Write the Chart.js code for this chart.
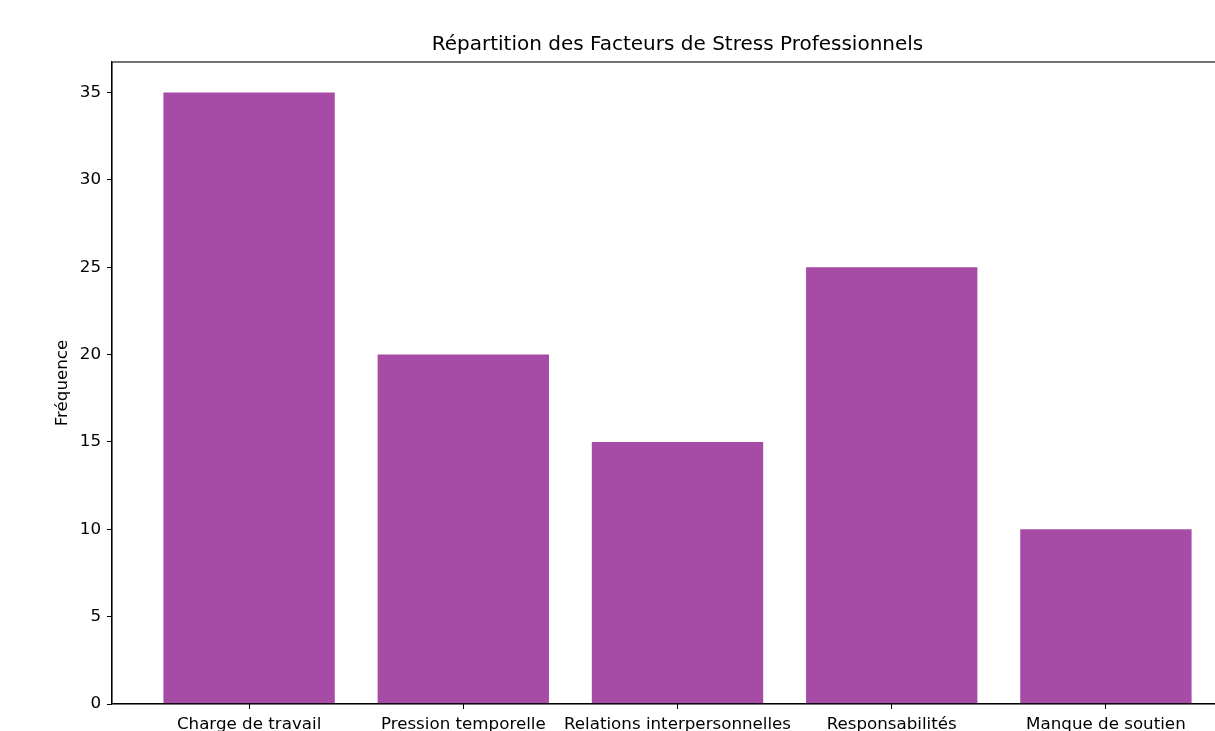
<!DOCTYPE html>
<html>
<head>
<meta charset="utf-8">
<script src="https://cdn.jsdelivr.net/npm/chart.js@4"></script>
<style>
html,body{margin:0;padding:0;background:#fff;overflow:hidden;width:1215px;height:731px;}
canvas{display:block;}
</style>
</head>
<body>
<canvas id="c" width="1300" height="760"></canvas>
<script>
const categories = ["Charge de travail", "Pression temporelle", "Relations interpersonnelles", "Responsabilités", "Manque de soutien"];
const values = [35, 20, 15, 25, 10];
const yTicks = [0, 5, 10, 15, 20, 25, 30, 35];
const titleText = "Répartition des Facteurs de Stress Professionnels";
const yLabel = "Fréquence";

const FONT = "'DejaVu Sans', sans-serif";

const framePlugin = {
  id: 'frame',
  afterDatasetsDraw(chart) {
    const {ctx, chartArea: a} = chart;
    ctx.save();
    ctx.strokeStyle = '#000';
    ctx.lineWidth = 1.1;
    ctx.strokeRect(a.left, a.top, a.right - a.left, a.bottom - a.top);
    ctx.restore();
  }
};

new Chart(document.getElementById('c'), {
  type: 'bar',
  data: {
    datasets: [{
      data: categories.map((c, i) => ({x: i, y: values[i]})),
      backgroundColor: 'rgba(128,0,128,0.7)',
      borderWidth: 0,
      barPercentage: 0.8,
      categoryPercentage: 1.0
    }]
  },
  options: {
    responsive: false,
    animation: false,
    layout: {padding: {left: 0, right: 57, top: 0, bottom: 0}},
    plugins: {
      legend: {display: false},
      tooltip: {enabled: false},
      title: {
        display: true,
        text: titleText,
        fullSize: false,
        color: '#000',
        font: {family: FONT, size: 20, weight: 'normal', lineHeight: 1.2},
        padding: {top: 33, bottom: 5}
      }
    },
    scales: {
      x: {
        type: 'linear',
        offset: false,
        min: -0.64,
        max: 4.64,
        afterBuildTicks: s => { s.ticks = categories.map((c, i) => ({value: i})); },
        afterFit: s => { s.height = 56; },
        grid: {offset: false, drawOnChartArea: false, drawTicks: true, tickLength: 5, tickColor: '#000', tickWidth: 1},
        border: {display: true, color: '#000', width: 1.1},
        ticks: {
          color: '#000',
          font: {family: FONT, size: 16.7},
          padding: 6,
          maxRotation: 0,
          autoSkip: false,
          callback: v => categories[v]
        }
      },
      y: {
        type: 'linear',
        min: 0,
        max: 36.75,
        afterBuildTicks: s => { s.ticks = yTicks.map(v => ({value: v})); },
        afterFit: s => { s.width = 112; },
        grid: {drawOnChartArea: false, drawTicks: true, tickLength: 5, tickColor: '#000', tickWidth: 1},
        border: {display: true, color: '#000', width: 1.1},
        ticks: {
          color: '#000',
          font: {family: FONT, size: 16.7},
          padding: 6,
          callback: v => String(v)
        },
        title: {
          display: true,
          text: yLabel,
          color: '#000',
          font: {family: FONT, size: 16.7, lineHeight: 1.2},
          padding: {top: 53, bottom: 0}
        }
      }
    }
  },
  plugins: [framePlugin]
});
</script>
</body>
</html>
